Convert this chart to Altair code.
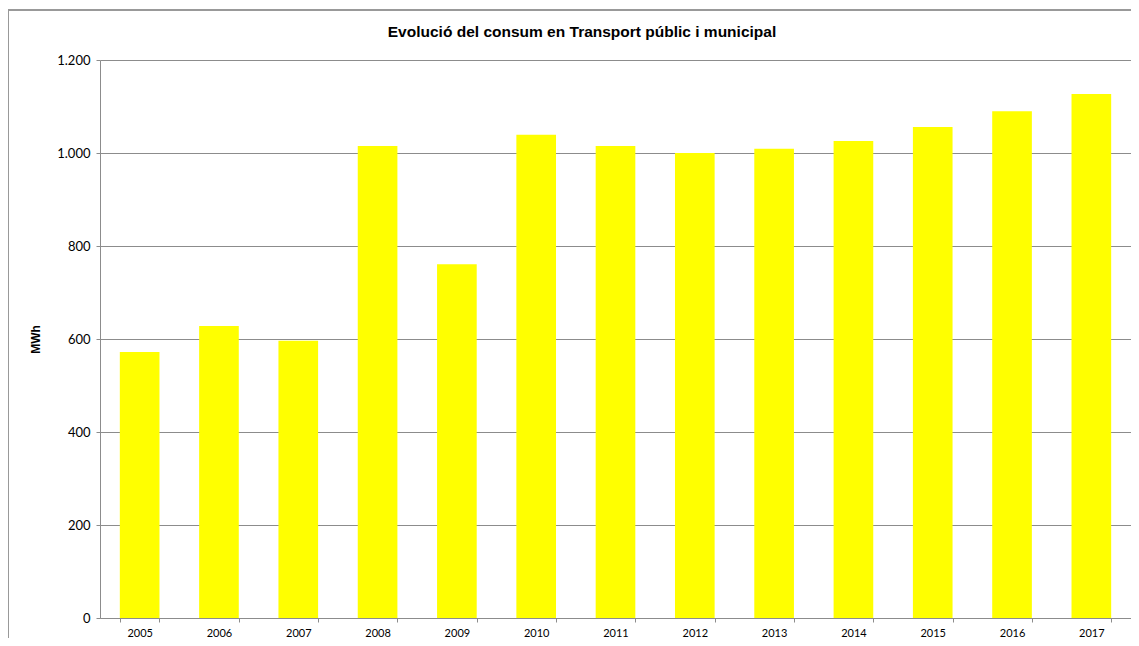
import altair as alt
import pandas as pd

years = ["2005", "2006", "2007", "2008", "2009", "2010", "2011", "2012", "2013", "2014", "2015", "2016", "2017"]
values = [572, 628, 596, 1015, 761, 1039, 1015, 1000, 1009, 1026, 1056, 1090, 1127]
y_ticks = [0, 200, 400, 600, 800, 1000, 1200]
title_text = ["Evolució del consum en Transport públic i municipal"]

df = pd.DataFrame({"year": years, "mwh": values})
tdf = pd.DataFrame({"t": title_text})

GRID = "#8c8c8c"

bars = alt.Chart(df).mark_bar(color="#FFFF00").encode(
    x=alt.X("year:N", sort=years, title=None,
            scale=alt.Scale(paddingInner=0.5, paddingOuter=0.25),
            axis=alt.Axis(labelAngle=0, tickBand="extent", tickSize=4, tickColor=GRID,
                          domainColor=GRID, labelFont="Lato", labelFontSize=11,
                          labelColor="#000000", labelPadding=5, grid=False)),
    y=alt.Y("mwh:Q", title="MWh",
            scale=alt.Scale(domain=[0, 1200], nice=False),
            axis=alt.Axis(values=y_ticks, tickSize=4, tickColor=GRID, domainColor=GRID,
                          gridColor=GRID, gridWidth=1, labelFont="Lato", labelFontSize=13,
                          labelColor="#000000", labelPadding=6,
                          labelExpr="replace(format(datum.value, ','), ',', '.')",
                          titleFont="Liberation Sans", titleFontSize=12, titleFontWeight="bold",
                          titleColor="#000000", titlePadding=14)),
)

title = alt.Chart(tdf).mark_text(font="Liberation Sans", fontSize=15.5, fontWeight="bold",
                                 color="#000000", align="center", baseline="middle").encode(
    text="t:N", x=alt.value(482), y=alt.value(-28)
)

border_top = alt.Chart(tdf).mark_rule(color="#999999", strokeWidth=2).encode(
    x=alt.value(-92), x2=alt.value(1031), y=alt.value(-50)
)
border_left = alt.Chart(tdf).mark_rule(color="#999999", strokeWidth=2).encode(
    x=alt.value(-92), y=alt.value(-50), y2=alt.value(578)
)

chart = alt.layer(bars, title, border_top, border_left).properties(
    width=1031,
    height=558,
    autosize=alt.AutoSizeParams(type="none"),
    padding={"left": 92, "top": 52, "right": 0, "bottom": 20},
).configure_view(stroke=None)

chart.save("out.html", embed_options={"renderer": "svg", "actions": False})
